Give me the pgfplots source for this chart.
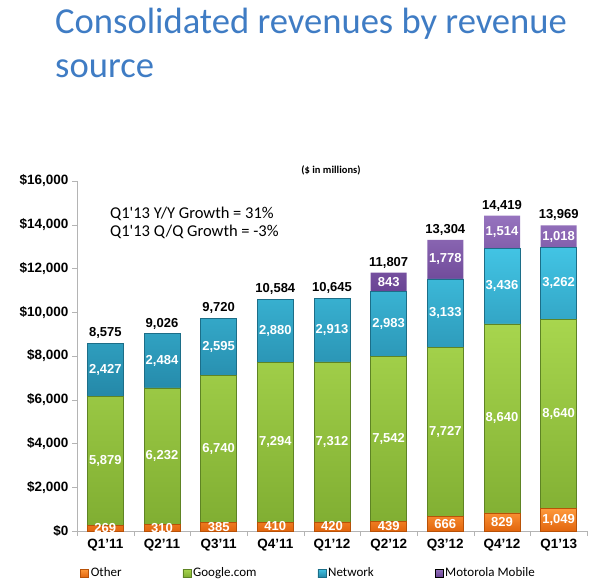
\documentclass[border=0pt]{standalone}
\usepackage{fontspec}
\setmainfont{Liberation Sans}
\newfontfamily\calibri{Carlito}
\usepackage{pgfplots}
\usepackage{pgfplotstable}
\pgfplotsset{compat=1.18}

\definecolor{titleblue}{HTML}{3F7CC4}
\definecolor{axisgray}{HTML}{B4B4B4}
\definecolor{otherT}{HTML}{FF9A3C}
\definecolor{otherB}{HTML}{E2660E}
\definecolor{otherD}{HTML}{B85208}
\definecolor{googT}{HTML}{A8D64E}
\definecolor{googB}{HTML}{80AE32}
\definecolor{googD}{HTML}{5E8424}
\definecolor{netT}{HTML}{42C4E4}
\definecolor{netB}{HTML}{2488A8}
\definecolor{netD}{HTML}{1C6E88}
\definecolor{motoT}{HTML}{9673BE}
\definecolor{motoB}{HTML}{6A4494}

% $ in millions
\pgfplotstableread{
x other google network moto total
0 269  5879 2427 0    8575
1 310  6232 2484 0    9026
2 385  6740 2595 0    9720
3 410  7294 2880 0    10584
4 420  7312 2913 0    10645
5 439  7542 2983 843  11807
6 666  7727 3133 1778 13304
7 829  8640 3436 1514 14419
8 1049 8640 3262 1018 13969
}\rev
% label heights: middle of each segment
\pgfplotstablecreatecol[create col/expr={\thisrow{other}/2}]{mo}\rev
\pgfplotstablecreatecol[create col/expr={\thisrow{other}+\thisrow{google}/2}]{mg}\rev
\pgfplotstablecreatecol[create col/expr={\thisrow{other}+\thisrow{google}+\thisrow{network}/2}]{mn}\rev
\pgfplotstablecreatecol[create col/expr={\thisrow{total}-\thisrow{moto}/2}]{mm}\rev

\pgfplotsset{
  /pgf/number format/1000 sep={,},
  /pgf/number format/assume math mode=true,
  frame/.style={
    at={(77pt,56pt)}, anchor=south west,
    scale only axis, width=510pt, height=350pt,
    xmin=-0.5, xmax=8.5, ymin=0, ymax=16000,
  },
  inlabel/.style={
    only marks, mark=none, point meta=explicit,
    nodes near coords={\pgfmathfloatifflags{\pgfplotspointmeta}{0}{}{\pgfmathprintnumber{\pgfplotspointmeta}}},
    every node near coord/.append style={anchor=center, text=white,
      font=\bfseries\fontsize{13}{15}\selectfont},
  },
}

\begin{document}
\begin{tikzpicture}[x=1pt,y=1pt]
\path[use as bounding box] (0,0) rectangle (600,587);
\node[anchor=base west, inner sep=0, text=titleblue,
  font=\calibri\fontsize{36.6}{40}\selectfont] at (55,553) {Consolidated revenues by revenue};
\node[anchor=base west, inner sep=0, text=titleblue,
  font=\calibri\fontsize{36.6}{40}\selectfont] at (55,509) {source};
\node[anchor=base west, inner sep=0, font=\calibri\fontsize{16.5}{18}\selectfont]
  at (110,368) {Q1'13 Y/Y Growth = 31\%};
\node[anchor=base west, inner sep=0, font=\calibri\fontsize{16.5}{18}\selectfont]
  at (110,350) {Q1'13 Q/Q Growth = -3\%};
\node[anchor=base, inner sep=0, font=\calibri\bfseries\fontsize{10.5}{12}\selectfont]
  at (331,413) {(\$ in millions)};

\begin{axis}[
  frame,
  ybar stacked, bar width=36pt,
  axis x line*=bottom, axis y line*=left,
  axis line style={-, draw=axisgray},
  xtick={0,...,8},
  xticklabels={Q1'11,Q2'11,Q3'11,Q4'11,Q1'12,Q2'12,Q3'12,Q4'12,Q1'13},
  major x tick style={draw=none},
  minor xtick={-0.5,0.5,...,8.5},
  ytick={0,2000,...,16000},
  tick align=outside, tick style={draw=axisgray},
  major tick length=5pt, minor tick length=5pt,
  scaled y ticks=false,
  yticklabel={\$\pgfmathprintnumber{\tick}},
  ticklabel style={font=\bfseries\fontsize{13.5}{15}\selectfont},
  legend columns=4,
  legend image code/.code={\draw[#1] (0pt,-4pt) rectangle (8pt,4pt);},
  legend style={at={(0,-0.12)}, anchor=west, draw=none, fill=none,
    font=\calibri\fontsize{13}{15}\selectfont,
    /tikz/every even column/.append style={column sep=59pt}},
]
\addplot[top color=otherT, bottom color=otherB, draw=otherD, line width=0.6pt]
  table[x=x, y=other]{\rev};
\addlegendentry{Other}
\addplot[top color=googT, bottom color=googB, draw=googD, line width=0.6pt]
  table[x=x, y=google]{\rev};
\addlegendentry{Google.com}
\addplot[top color=netT, bottom color=netB, draw=netD, line width=0.6pt]
  table[x=x, y=network]{\rev};
\addlegendentry{Network}
\addplot[top color=motoT, bottom color=motoB, draw=none]
  table[x=x, y=moto]{\rev};
\addlegendentry{Motorola Mobile}
\end{axis}

% value labels
\begin{axis}[frame, hide axis, clip=false]
\addplot[inlabel] table[x=x, y=mo, meta=other]{\rev};
\addplot[inlabel] table[x=x, y=mg, meta=google]{\rev};
\addplot[inlabel] table[x=x, y=mn, meta=network]{\rev};
\addplot[inlabel] table[x=x, y=mm, meta=moto]{\rev};
\addplot[only marks, mark=none, point meta=explicit, nodes near coords,
  every node near coord/.append style={anchor=south, text=black, yshift=1pt,
    font=\bfseries\fontsize{13}{15}\selectfont}]
  table[x=x, y=total, meta=total]{\rev};
\end{axis}
\end{tikzpicture}
\end{document}
